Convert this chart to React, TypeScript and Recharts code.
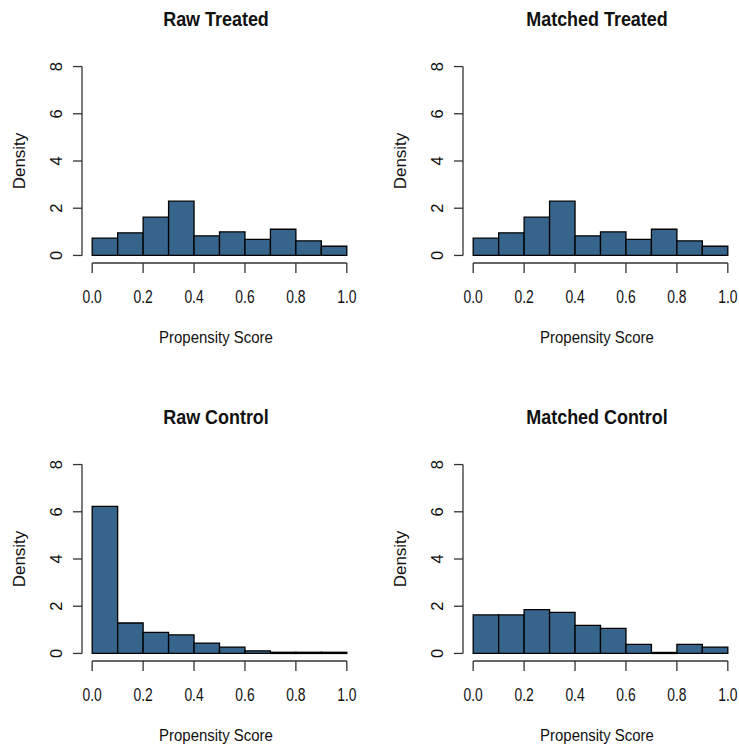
import React from "react";
import { ComposedChart, Bar, XAxis, YAxis, ReferenceLine } from "recharts";

// histogram bins of the propensity score (midpoints), width 0.1
const binMids = [0.05, 0.15, 0.25, 0.35, 0.45, 0.55, 0.65, 0.75, 0.85, 0.95];
const binWidth = 0.1;

// density per bin
const rawTreated = [0.73, 0.96, 1.62, 2.3, 0.83, 1.0, 0.68, 1.11, 0.62, 0.39];
const matchedTreated = [0.73, 0.96, 1.62, 2.3, 0.83, 1.0, 0.68, 1.11, 0.62, 0.39];
const rawControl = [6.23, 1.29, 0.89, 0.79, 0.44, 0.27, 0.11, 0.05, 0.05, 0.05];
const matchedControl = [1.63, 1.63, 1.86, 1.74, 1.19, 1.06, 0.38, 0, 0.38, 0.27];

const xTicks = [0, 0.2, 0.4, 0.6, 0.8, 1];
const yTicks = [0, 2, 4, 6, 8];

const FONT = "'Liberation Sans', Arial, Helvetica, sans-serif";
const FILL = "#36648B";
const AXIS = "#333";

const W = 370;
const H = 360;
const margin = { top: 59, right: 13, bottom: 57, left: 42 };
const yAxisW = 40;
const xAxisH = 40;
const plotW = W - margin.left - margin.right - yAxisW;
// R pads the data range by 4% on each side
const xDomain = [-0.04, 1.04];
const yDomain = [-0.32, 8.32];
// a hair under the full bin so recharts doesn't shrink the bars
const barPx = (plotW * binWidth) / (xDomain[1] - xDomain[0]) - 0.001;

const XTick = (props: any) => {
  const { x, y, payload } = props;
  return (
    <text
      transform={`translate(${x} ${y + 29.5}) scale(0.75 1)`}
      textAnchor="middle"
      fontSize={18.5}
      fontFamily={FONT}
      fill="#111"
    >
      {Number(payload.value).toFixed(1)}
    </text>
  );
};

const YTick = (props: any) => {
  const { x, y, payload } = props;
  const bx = x - 11.3;
  return (
    <text
      transform={`rotate(-90 ${bx} ${y})`}
      x={bx}
      y={y}
      textAnchor="middle"
      fontSize={16.5}
      fontFamily={FONT}
      fill="#111"
    >
      {payload.value}
    </text>
  );
};

const XLabel = (props: any) => {
  const { x, y, width } = props.viewBox;
  return (
    <text
      transform={`translate(${x + width / 2 - 3.5} ${y + 79.7}) scale(0.88 1)`}
      textAnchor="middle"
      fontSize={17}
      fontFamily={FONT}
      fill="#111"
    >
      Propensity Score
    </text>
  );
};

const YLabel = (props: any) => {
  const { x, y, height } = props.viewBox;
  const bx = x - 17;
  const cy = y + height / 2;
  return (
    <text
      transform={`rotate(-90 ${bx} ${cy})`}
      x={bx}
      y={cy}
      textAnchor="middle"
      fontSize={17}
      fontFamily={FONT}
      fill="#111"
    >
      Density
    </text>
  );
};

interface PanelProps {
  title: string;
  values: number[];
  left: number;
  top: number;
}

const Panel = ({ title, values, left, top }: PanelProps) => {
  const rows = binMids.map((mid, i) => ({ mid, density: values[i] }));
  return (
    <div style={{ position: "absolute", left, top, width: W, height: H }}>
      <ComposedChart
        width={W}
        height={H}
        data={rows}
        margin={margin}
        barGap={0}
        barCategoryGap={0}
      >
        <XAxis
          dataKey="mid"
          type="number"
          domain={xDomain}
          allowDataOverflow
          ticks={xTicks}
          interval={0}
          height={xAxisH}
          axisLine={false}
          tickLine={{ stroke: AXIS, strokeWidth: 1.3 }}
          tickSize={10}
          tickMargin={0}
          tick={<XTick />}
          label={{ content: <XLabel /> }}
        />
        <YAxis
          type="number"
          domain={yDomain}
          allowDataOverflow
          ticks={yTicks}
          interval={0}
          width={yAxisW}
          axisLine={false}
          tickLine={{ stroke: AXIS, strokeWidth: 1.3 }}
          tickSize={9}
          tickMargin={0}
          tick={<YTick />}
          label={{ content: <YLabel /> }}
        />
        <ReferenceLine
          segment={[{ x: 0, y: yDomain[0] }, { x: 1, y: yDomain[0] }]}
          stroke={AXIS}
          strokeWidth={1.3}
          ifOverflow="visible"
        />
        <ReferenceLine
          segment={[{ x: xDomain[0], y: 0 }, { x: xDomain[0], y: 8 }]}
          stroke={AXIS}
          strokeWidth={1.3}
          ifOverflow="visible"
        />
        <Bar
          dataKey="density"
          fill={FILL}
          stroke="#000"
          strokeWidth={1.3}
          barSize={barPx}
          minPointSize={1}
          isAnimationActive={false}
        />
      </ComposedChart>
      <svg
        width={W}
        height={40}
        style={{ position: "absolute", left: 0, top: 0, pointerEvents: "none" }}
      >
        <text
          transform={`translate(216 25.7) scale(0.875 1)`}
          textAnchor="middle"
          fontSize={20.5}
          fontWeight="bold"
          fontFamily={FONT}
          fill="#111"
        >
          {title}
        </text>
      </svg>
    </div>
  );
};

export default function App() {
  return (
    <div
      style={{
        position: "absolute",
        left: 0,
        top: 0,
        width: 739,
        height: 748,
        background: "#fff",
        overflow: "hidden",
      }}
    >
      <Panel title="Raw Treated" values={rawTreated} left={0} top={0} />
      <Panel title="Matched Treated" values={matchedTreated} left={380.5} top={0} />
      <Panel title="Raw Control" values={rawControl} left={0} top={397.5} />
      <Panel title="Matched Control" values={matchedControl} left={380.5} top={397.5} />
    </div>
  );
}
